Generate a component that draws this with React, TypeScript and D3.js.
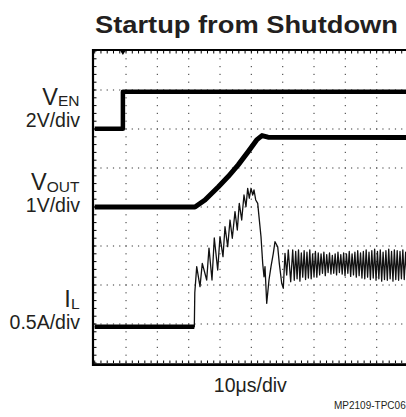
import React from "react";
import * as d3 from "d3";

// ---- text ----
const titleText = "Startup from Shutdown";
const timebaseLabel = "10μs/div";
const figureId = "MP2109-TPC06";

// ---- scope settings ----
const xDivisions = 10;
const yDivisions = 8;
const minorPerDiv = 5;
const timePerDiv = 10; // µs

// channel: [volts or amps per div, ground position in divisions from bottom]
const venPerDiv = 2;
const venGround = 6;
const voutPerDiv = 1;
const voutGround = 4;
const ilPerDiv = 0.5;
const ilGround = 1;

// ---- traces (time in µs) ----
const venTime = [0, 9.0, 9.0, 100];
const venVolts = [0.01, 0.01, 1.91, 1.91];

const voutTime = [0, 32.0, 35.2, 39.5, 42.6, 45.8, 49.0, 51.7, 53.4, 55.3, 100];
const voutVolts = [0, 0, 0.18, 0.52, 0.78, 1.08, 1.42, 1.72, 1.83, 1.79, 1.78];

// inductor current: standby, soft-start ramp, overshoot and settling
const ilTime = [
  0, 31.8, 31.95, 32.56, 33.61, 34.34, 35.75, 36.48, 37.44, 38.17, 39.26, 39.99,
  40.95, 41.59, 42.45, 43.19, 43.92, 44.78, 45.52, 46.15, 46.92, 47.65, 48.29,
  48.83, 49.35, 49.89, 50.43, 50.85, 51.39, 52.03, 52.44, 53.08, 53.62, 54.04,
  54.36, 54.9, 55.63, 56.27, 57.01, 57.55, 58.41, 58.92, 59.69, 60.2, 60.74,
  61.28, 61.79, 62.56, 63.2,
];
const ilAmps = [
  -0.035, -0.035, 0.4, 0.735, 0.478, 0.778, 0.564, 0.974, 0.564, 1.103, 0.692, 1.119,
  0.863, 1.247, 0.991, 1.333, 1.099, 1.44, 1.205, 1.547, 1.333, 1.654, 1.504,
  1.74, 1.612, 1.74, 1.654, 1.718, 1.59, 1.547, 1.376, 1.119, 0.778, 0.606,
  0.735, 0.265, 0.564, 0.735, 0.906, 1.055, 0.991, 0.778, 0.522, 0.458, 0.906,
  0.628, 0.949, 0.542, 0.949,
];
const ilStandbyEnd = 31.8;

// steady-state ripple, alternating trough / peak, one sample every half period
const ilRippleStart = 63.7;
const ilRippleHalfPeriod = 0.45;
const ilRippleAmps = [
  0.56, 0.93, 0.58, 0.95, 0.55, 0.91, 0.6, 0.94, 0.57, 0.92, 0.59, 0.95, 0.58, 0.9, 0.61, 0.93, 0.6,
  0.91, 0.63, 0.9, 0.65, 0.92, 0.62, 0.89, 0.66, 0.91, 0.64, 0.88, 0.65, 0.9, 0.63, 0.92, 0.66, 0.89, 0.64, 0.91,
  0.62, 0.9, 0.65, 0.93, 0.61, 0.9, 0.63, 0.92, 0.6, 0.94, 0.62, 0.91, 0.59, 0.93, 0.58, 0.95, 0.6, 0.92,
  0.57, 0.94, 0.59, 0.96, 0.56, 0.93, 0.58, 0.95, 0.55, 0.92, 0.57, 0.94, 0.56, 0.96, 0.58, 0.93, 0.55, 0.95, 0.57, 0.94, 0.56, 0.93, 0.58,
  0.95, 0.57, 0.92, 0.59,
];

const W = 406;
const H = 417;
const FONT = "'Liberation Sans', Arial, Helvetica, sans-serif";

export default function App() {
  const left = 94.7;
  const right = 408;
  const top = 51;
  const bottom = 363;

  const xDiv = d3.scaleLinear().domain([0, xDivisions]).range([left, right]);
  const yDiv = d3.scaleLinear().domain([0, yDivisions]).range([bottom, top]);
  const xTime = d3.scaleLinear().domain([0, xDivisions * timePerDiv]).range([left, right]);

  const channelY = (ground: number, perDiv: number) => (v: number) => yDiv(ground + v / perDiv);
  const yVen = channelY(venGround, venPerDiv);
  const yVout = channelY(voutGround, voutPerDiv);
  const yIl = channelY(ilGround, ilPerDiv);

  const line = d3.line<[number, number]>().x((d) => d[0]).y((d) => d[1]);

  const venPts: [number, number][] = venTime.map((t, i) => [xTime(t), yVen(venVolts[i])]);
  const voutPts: [number, number][] = voutTime.map((t, i) => [xTime(t), yVout(voutVolts[i])]);
  const ilPts: [number, number][] = ilTime.map((t, i) => [xTime(t), yIl(ilAmps[i])]);
  const ripplePts: [number, number][] = ilRippleAmps.map((a, i) => [
    xTime(ilRippleStart + i * ilRippleHalfPeriod),
    yIl(a),
  ]);
  const ilAll = ilPts.concat(ripplePts);
  const ilStandby = ilTime
    .map((t, i) => [t, ilAmps[i]] as [number, number])
    .filter((d) => d[0] <= ilStandbyEnd)
    .map((d) => [xTime(d[0]), yIl(d[1])] as [number, number]);

  // graticule dots
  const dots: { x: number; y: number }[] = [];
  for (let r = 1; r < yDivisions; r++) {
    for (let j = 0; j <= xDivisions * minorPerDiv; j++) {
      dots.push({ x: xDiv(j / minorPerDiv), y: yDiv(r) });
    }
  }
  for (let c = 1; c < xDivisions; c++) {
    for (let j = 0; j <= yDivisions * minorPerDiv; j++) {
      dots.push({ x: xDiv(c), y: yDiv(j / minorPerDiv) });
    }
  }
  const xMinor = d3.range(0, xDivisions * minorPerDiv + 1).map((j) => xDiv(j / minorPerDiv));
  const yMinor = d3.range(0, yDivisions * minorPerDiv + 1).map((j) => yDiv(j / minorPerDiv));

  const trigX = xTime(venTime[1]);
  const labelEnd = 80;

  return (
    <svg
      width={W}
      height={H}
      viewBox={`0 0 ${W} ${H}`}
      style={{ position: "fixed", left: 0, top: 0, background: "#fff", display: "block" }}
      fontFamily={FONT}
    >
      <rect x={0} y={0} width={W} height={H} fill="#fff" />
      <defs>
        <clipPath id="plotClip">
          <rect x={left - 1} y={top} width={right - left + 1} height={bottom - top} />
        </clipPath>
      </defs>

      <text
        x={95}
        y={33.3}
        fontSize={24}
        fontWeight="bold"
        fill="#231f20"
        textLength={303}
        lengthAdjust="spacingAndGlyphs"
      >
        {titleText}
      </text>

      {/* graticule */}
      <g fill="#555">
        {dots.map((d, i) => (
          <rect key={i} x={d.x - 0.6} y={d.y - 0.6} width={1.2} height={1.2} />
        ))}
      </g>

      {/* border ticks */}
      <g stroke="#000" strokeWidth={1}>
        {yMinor.map((y, i) => (
          <line key={"l" + i} x1={94} x2={96.5} y1={y} y2={y} />
        ))}
        {xMinor.map((x, i) => (
          <line key={"t" + i} x1={x} x2={x} y1={51} y2={53.5} />
        ))}
        {xMinor.map((x, i) => (
          <line key={"b" + i} x1={x} x2={x} y1={363} y2={360.5} />
        ))}
      </g>

      {/* frame */}
      <g stroke="#000" fill="none">
        <line x1={92} x2={409} y1={50} y2={50} strokeWidth={2.2} />
        <line x1={93} x2={93} y1={49} y2={366} strokeWidth={2.2} />
        <line x1={92} x2={409} y1={364.6} y2={364.6} strokeWidth={2.8} />
        <line x1={408.5} x2={408.5} y1={49} y2={366} strokeWidth={2.2} />
      </g>

      {/* traces */}
      <g clipPath="url(#plotClip)" fill="none" strokeLinejoin="round">
        <path d={line(ilAll) || ""} stroke="#111" strokeWidth={1.3} />
        <path d={line(ilStandby) || ""} stroke="#000" strokeWidth={4.5} />
        <path d={line(venPts) || ""} stroke="#000" strokeWidth={4.5} />
        <path d={line(voutPts) || ""} stroke="#000" strokeWidth={5} />
      </g>

      {/* trigger marker */}
      <path d={`M${trigX - 2.5},51 L${trigX + 2.5},51 L${trigX},55 Z`} fill="#000" />

      {/* channel labels */}
      <g fill="#231f20" textAnchor="end">
        <text x={labelEnd - 0.5} y={104.5}>
          <tspan fontSize={23.5}>V</tspan>
          <tspan fontSize={15.5} dy={1.2}>EN</tspan>
        </text>
        <text x={labelEnd} y={127} fontSize={19.5}>2V/div</text>
        <text x={labelEnd - 0.5} y={189.5}>
          <tspan fontSize={23.5}>V</tspan>
          <tspan fontSize={15.5} dy={2.5}>OUT</tspan>
        </text>
        <text x={labelEnd} y={211.8} fontSize={19.5}>1V/div</text>
        <text x={labelEnd - 0.5} y={307.2}>
          <tspan fontSize={23.5}>I</tspan>
          <tspan fontSize={15.5} dy={2}>L</tspan>
        </text>
        <text x={labelEnd} y={328.6} fontSize={19.5}>0.5A/div</text>
      </g>

      <text x={(left + right) / 2 - 1} y={392} fontSize={19.5} textAnchor="middle" fill="#231f20">
        {timebaseLabel}
      </text>
      <text x={334} y={409} fontSize={10} fill="#231f20">
        {figureId}
      </text>
    </svg>
  );
}
